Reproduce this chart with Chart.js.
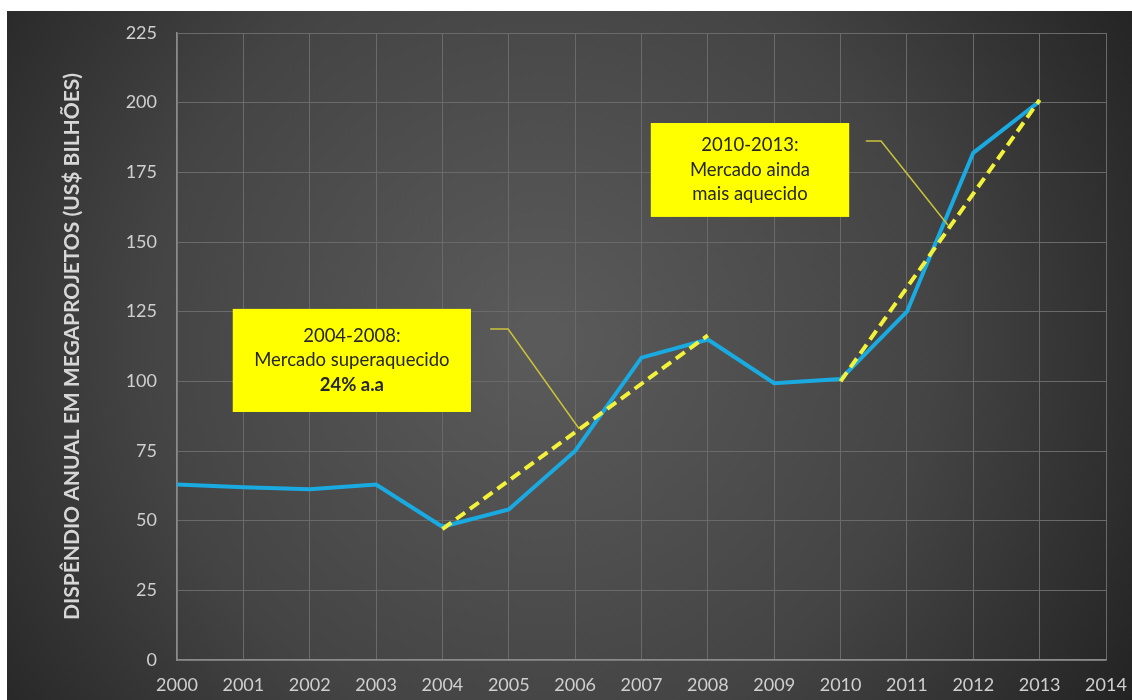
<!DOCTYPE html>
<html>
<head>
<meta charset="utf-8">
<script src="https://cdn.jsdelivr.net/npm/chart.js@4.4.1/dist/chart.umd.min.js"></script>
<style>
  html, body { margin: 0; padding: 0; background: #fff; }
  #wrap { width: 1132px; height: 700px; position: relative; }
</style>
</head>
<body>
<div id="wrap"><canvas id="chart" width="1132" height="700"></canvas></div>
<script>
// data
const years = [2000, 2001, 2002, 2003, 2004, 2005, 2006, 2007, 2008, 2009, 2010, 2011, 2012, 2013];
const spending = [63, 62, 61.3, 63, 47.8, 54, 75, 108.5, 115, 99.3, 100.8, 125, 182, 200.5];

// dashed trend segments
const trend1Years = [2004, 2008];
const trend1Values = [47, 116.5];
const trend2Years = [2010, 2013];
const trend2Values = [100, 201];

const yTicks = [0, 25, 50, 75, 100, 125, 150, 175, 200, 225];
const axisTitle = 'DISPÊNDIO ANUAL EM MEGAPROJETOS (US$ BILHÕES)';

// annotation boxes (data units): x0, x1, yTop, yBottom, text lines, leader line
const notes = [
    {
        box: [2000.84, 2004.43, 126, 89],
        lines: [['2004-2008:', false], ['Mercado superaquecido', false], ['24% a.a', true]],
        leader: [[2004.72, 118.8], [2004.99, 118.8], [2006.06, 83]]
    },
    {
        box: [2007.14, 2010.13, 192.7, 159],
        lines: [['2010-2013:', false], ['Mercado ainda', false], ['mais aquecido', false]],
        leader: [[2010.38, 186.2], [2010.61, 186.2], [2011.62, 156]]
    }
];

const toPoints = (xs, ys) => xs.map((x, i) => ({ x: x, y: ys[i] }));

const backgroundPlugin = {
    id: 'bg',
    beforeDraw: function(chart) {
        const ctx = chart.ctx;
        ctx.save();
        ctx.fillStyle = '#ffffff';
        ctx.fillRect(0, 0, chart.width, chart.height);
        const g = ctx.createRadialGradient(540, 340, 20, 540, 340, 700);
        g.addColorStop(0, '#5a5a5a');
        g.addColorStop(0.55, '#444444');
        g.addColorStop(1, '#222222');
        ctx.fillStyle = g;
        ctx.fillRect(7, 11, chart.width - 7, chart.height - 11);
        ctx.restore();
    }
};

const notesPlugin = {
    id: 'notes',
    afterDatasetsDraw: function(chart) {
        const ctx = chart.ctx;
        const xs = chart.scales.x;
        const ys = chart.scales.y;
        ctx.save();
        notes.forEach(n => {
            // leader line
            ctx.strokeStyle = '#c9c23a';
            ctx.lineWidth = 1.5;
            ctx.beginPath();
            n.leader.forEach((p, i) => {
                const px = xs.getPixelForValue(p[0]);
                const py = ys.getPixelForValue(p[1]);
                if (i === 0) ctx.moveTo(px, py); else ctx.lineTo(px, py);
            });
            ctx.stroke();

            // box
            const x0 = xs.getPixelForValue(n.box[0]);
            const x1 = xs.getPixelForValue(n.box[1]);
            const y0 = ys.getPixelForValue(n.box[2]);
            const y1 = ys.getPixelForValue(n.box[3]);
            ctx.fillStyle = '#ffff00';
            ctx.fillRect(x0, y0, x1 - x0, y1 - y0);

            // text
            ctx.fillStyle = '#262626';
            ctx.textAlign = 'center';
            ctx.textBaseline = 'middle';
            const cx = (x0 + x1) / 2;
            const cy = (y0 + y1) / 2;
            const lh = 24.5;
            n.lines.forEach((l, i) => {
                ctx.font = (l[1] ? 'bold ' : '') + '18.5px Lato';
                ctx.fillText(l[0], cx, cy + (i - 1) * lh);
            });
        });
        ctx.restore();
    }
};

new Chart(document.getElementById('chart'), {
    type: 'line',
    data: {
        datasets: [
            {
                data: toPoints(years, spending),
                borderColor: '#1aaae2',
                borderWidth: 4,
                pointRadius: 0,
                tension: 0,
                order: 2
            },
            {
                data: toPoints(trend1Years, trend1Values),
                borderColor: '#f2f23a',
                borderWidth: 4,
                borderDash: [11, 6],
                pointRadius: 0,
                order: 1
            },
            {
                data: toPoints(trend2Years, trend2Values),
                borderColor: '#f2f23a',
                borderWidth: 4,
                borderDash: [11, 6],
                pointRadius: 0,
                order: 1
            }
        ]
    },
    options: {
        responsive: false,
        animation: false,
        layout: { padding: { top: 33, right: 26, left: 0, bottom: 0 } },
        plugins: {
            legend: { display: false },
            tooltip: { enabled: false }
        },
        scales: {
            x: {
                type: 'linear',
                min: 2000,
                max: 2014,
                afterBuildTicks: function(scale) {
                    scale.ticks = years.concat([2014]).map(v => ({ value: v }));
                },
                afterFit: function(scale) {
                    scale.height = 40;
                    scale.paddingLeft = 0;
                    scale.paddingRight = 0;
                },
                ticks: {
                    callback: v => String(v),
                    color: '#cfcfcf',
                    font: { family: 'Lato', size: 18 },
                    padding: 14,
                    maxRotation: 0,
                    autoSkip: false
                },
                grid: { color: '#6a6a6a', lineWidth: 1, drawTicks: false },
                border: { color: '#8a8a8a', width: 1.5 }
            },
            y: {
                min: 0,
                max: 225,
                afterBuildTicks: function(scale) {
                    scale.ticks = yTicks.map(v => ({ value: v }));
                },
                afterFit: function(scale) { scale.width = 177; },
                ticks: {
                    color: '#cfcfcf',
                    font: { family: 'Lato', size: 18 },
                    padding: 20
                },
                grid: { color: '#6a6a6a', lineWidth: 1, drawTicks: false },
                border: { color: '#8a8a8a', width: 1.5 },
                title: {
                    display: true,
                    text: axisTitle,
                    color: '#d6d6d6',
                    font: { family: 'Lato', size: 21, weight: 'bold' },
                    padding: { top: 60, bottom: 0 }
                }
            }
        }
    },
    plugins: [backgroundPlugin, notesPlugin]
});
</script>
</body>
</html>
